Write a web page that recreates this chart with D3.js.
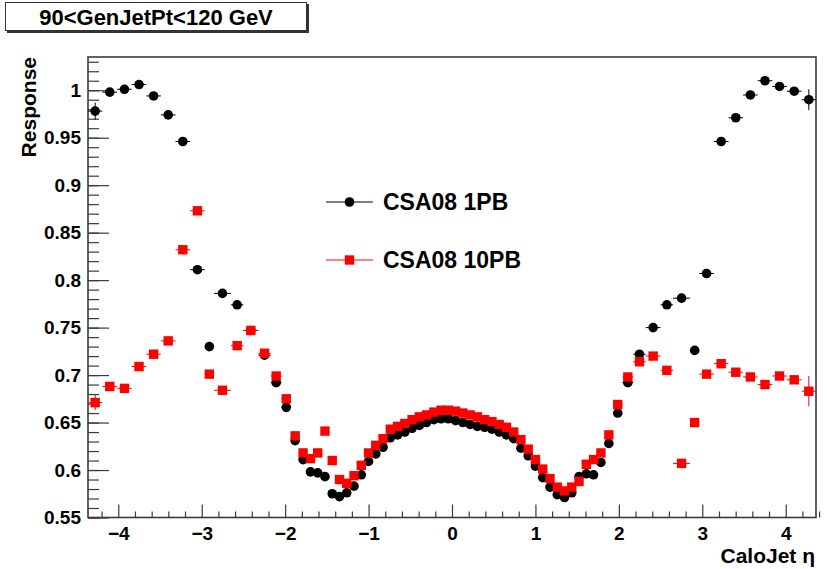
<!DOCTYPE html>
<html>
<head>
<meta charset="utf-8">
<script src="https://cdn.jsdelivr.net/npm/d3@7"></script>
<style>
    body { margin: 0; background: #fff; }
    text { font-family: 'Liberation Sans', Arial, Helvetica, sans-serif; font-weight: bold; fill: #000; }
</style>
</head>
<body>
<div id="chart"></div>
<script>
// calo tower edges in |eta|, the plot uses both sides
const towerEdges = [0, 0.087, 0.174, 0.261, 0.348, 0.435, 0.522, 0.609, 0.696, 0.783, 0.870,
    0.957, 1.044, 1.131, 1.218, 1.305, 1.392, 1.479, 1.566, 1.653, 1.740, 1.830, 1.930,
    2.043, 2.172, 2.322, 2.500, 2.650, 2.853, 2.964, 3.139, 3.314, 3.489, 3.664, 3.839,
    4.013, 4.191, 4.363];

// response per tower, eta from -4.36 to +4.36
const resp1PB = [
    0.978, 0.998, 1.001, 1.006, 0.994, 0.974, 0.946, 0.811, 0.730, 0.786, 0.774, 0.747,
    0.721, 0.692, 0.666, 0.631, 0.611, 0.598, 0.597, 0.593, 0.575, 0.572, 0.576, 0.583,
    0.595, 0.609, 0.617, 0.624, 0.634, 0.637, 0.640, 0.644, 0.647, 0.650, 0.653, 0.654, 0.654,
    0.652, 0.650, 0.648, 0.646, 0.645, 0.643, 0.640, 0.637, 0.633, 0.623, 0.615, 0.604,
    0.592, 0.582, 0.574, 0.571, 0.576, 0.593, 0.596, 0.595, 0.608, 0.628, 0.660, 0.692,
    0.722, 0.750, 0.774, 0.781, 0.726, 0.807, 0.946, 0.971, 0.995, 1.010, 1.004, 0.999, 0.990
];
const resp10PB = [
    0.671, 0.688, 0.686, 0.709, 0.722, 0.736, 0.832, 0.873, 0.701, 0.684, 0.731, 0.747,
    0.723, 0.699, 0.675, 0.636, 0.618, 0.612, 0.618, 0.641, 0.610, 0.590, 0.586, 0.594,
    0.605, 0.618, 0.626, 0.633, 0.643, 0.646, 0.649, 0.653, 0.656, 0.658, 0.661, 0.663, 0.663,
    0.662, 0.660, 0.658, 0.656, 0.653, 0.651, 0.648, 0.645, 0.640, 0.632, 0.622, 0.611,
    0.601, 0.591, 0.582, 0.578, 0.582, 0.588, 0.606, 0.611, 0.618, 0.637, 0.669, 0.698,
    0.714, 0.720, 0.705, 0.607, 0.650, 0.701, 0.712, 0.703, 0.698, 0.690, 0.699, 0.695, 0.683
];
const err1PB = [
    0.009, 0.004, 0.003, 0.003, 0.003, 0.003, 0.003, 0.003, 0.003, 0.002, 0.002, 0.002,
    0.002, 0.002, 0.002, 0.002, 0.002, 0.002, 0.002, 0.002, 0.002, 0.002, 0.002, 0.002,
    0.002, 0.002, 0.002, 0.002, 0.002, 0.002, 0.002, 0.002, 0.002, 0.002, 0.002, 0.002, 0.002,
    0.002, 0.002, 0.002, 0.002, 0.002, 0.002, 0.002, 0.002, 0.002, 0.002, 0.002, 0.002,
    0.002, 0.002, 0.002, 0.002, 0.002, 0.002, 0.002, 0.002, 0.002, 0.002, 0.002, 0.002,
    0.002, 0.002, 0.002, 0.002, 0.003, 0.003, 0.003, 0.003, 0.003, 0.003, 0.003, 0.004, 0.011
];
const err10PB = [
    0.008, 0.004, 0.003, 0.003, 0.003, 0.003, 0.003, 0.003, 0.003, 0.002, 0.002, 0.002,
    0.002, 0.002, 0.002, 0.002, 0.002, 0.002, 0.002, 0.002, 0.002, 0.002, 0.002, 0.002,
    0.002, 0.002, 0.002, 0.002, 0.002, 0.002, 0.002, 0.002, 0.002, 0.002, 0.002, 0.002, 0.002,
    0.002, 0.002, 0.002, 0.002, 0.002, 0.002, 0.002, 0.002, 0.002, 0.002, 0.002, 0.002,
    0.002, 0.002, 0.002, 0.002, 0.002, 0.002, 0.002, 0.002, 0.002, 0.002, 0.002, 0.002,
    0.002, 0.002, 0.002, 0.002, 0.003, 0.003, 0.003, 0.003, 0.003, 0.003, 0.003, 0.004, 0.016
];

const xTicks = [-4, -3, -2, -1, 0, 1, 2, 3, 4];
const yTicks = [0.55, 0.6, 0.65, 0.7, 0.75, 0.8, 0.85, 0.9, 0.95, 1];
const seriesNames = ['CSA08 1PB', 'CSA08 10PB'];
const titleText = '90<GenJetPt<120 GeV';

const width = 827;
const height = 569;
const frame = { left: 88, right: 816, top: 57, bottom: 517.5 };

const svg = d3.select('#chart')
    .append('svg')
    .attr('width', width)
    .attr('height', height);

// bins mirrored around eta = 0
const etaEdges = towerEdges.slice(1).reverse().map(e => -e).concat(towerEdges);
const bins = d3.range(etaEdges.length - 1).map(i => ({
    lo: etaEdges[i],
    hi: etaEdges[i + 1],
    eta: (etaEdges[i] + etaEdges[i + 1]) / 2,
}));

const x = d3.scaleLinear()
    .domain([etaEdges[0], etaEdges[etaEdges.length - 1]])
    .range([frame.left, frame.right]);
const y = d3.scaleLinear()
    .domain([0.55, 1.035])
    .range([frame.bottom, frame.top]);

const axisColor = '#3a3a3a';

// x axis, ticks pointing into the frame
const xMinor = d3.range(-4.2, 4.4, 0.2).filter(v => Math.abs(v - Math.round(v)) > 0.01);
svg.append('g')
    .attr('transform', `translate(0,${frame.bottom})`)
    .call(d3.axisBottom(x).tickValues(xMinor).tickSize(-6).tickSizeOuter(0).tickFormat(''))
    .call(g => g.select('.domain').remove());
const xAxis = svg.append('g')
    .attr('transform', `translate(0,${frame.bottom})`)
    .call(d3.axisBottom(x).tickValues(xTicks).tickSize(-13).tickSizeOuter(0).tickPadding(9)
        .tickFormat(d3.format('d')));
xAxis.select('.domain').remove();
xAxis.selectAll('text').style('font-size', '19px');

// y axis
const yMinor = d3.range(0.55, 1.035, 0.01);
svg.append('g')
    .attr('transform', `translate(${frame.left},0)`)
    .call(d3.axisLeft(y).tickValues(yMinor).tickSize(-11).tickSizeOuter(0).tickFormat(''))
    .call(g => g.select('.domain').remove());
const yAxis = svg.append('g')
    .attr('transform', `translate(${frame.left},0)`)
    .call(d3.axisLeft(y).tickValues(yTicks).tickSize(-21).tickSizeOuter(0).tickPadding(7)
        .tickFormat(d3.format('~g')));
yAxis.select('.domain').remove();
yAxis.selectAll('text').style('font-size', '19px');

svg.selectAll('.tick line')
    .attr('stroke', axisColor)
    .attr('stroke-width', 1.2);

svg.append('rect')
    .attr('x', frame.left)
    .attr('y', frame.top)
    .attr('width', frame.right - frame.left)
    .attr('height', frame.bottom - frame.top)
    .attr('fill', 'none')
    .attr('stroke', axisColor)
    .attr('stroke-width', 1.6);

// axis titles
svg.append('text')
    .attr('x', 815)
    .attr('y', 563)
    .attr('text-anchor', 'end')
    .style('font-size', '21px')
    .text('CaloJet η');

svg.append('text')
    .attr('transform', `translate(36,${frame.top}) rotate(-90)`)
    .attr('text-anchor', 'end')
    .style('font-size', '21px')
    .text('Response');

// title pave with shadow
svg.append('rect')
    .attr('x', 7).attr('y', 4).attr('width', 302).attr('height', 29)
    .attr('fill', '#333');
svg.append('rect')
    .attr('x', 5.5).attr('y', 2.5).attr('width', 301).attr('height', 28)
    .attr('fill', '#fff')
    .attr('stroke', '#333')
    .attr('stroke-width', 1);
svg.append('text')
    .attr('x', 156)
    .attr('y', 25)
    .attr('text-anchor', 'middle')
    .style('font-size', '22px')
    .text(titleText);

function drawSeries(values, errors, color, shape) {
    const pts = bins.map((b, i) => ({ ...b, v: values[i], e: errors[i] }));
    const g = svg.append('g');

    g.selectAll('.xerr')
        .data(pts)
        .join('line')
        .attr('x1', d => x(d.lo))
        .attr('x2', d => x(d.hi))
        .attr('y1', d => y(d.v))
        .attr('y2', d => y(d.v))
        .attr('stroke', color)
        .attr('stroke-width', 1);

    g.selectAll('.yerr')
        .data(pts)
        .join('line')
        .attr('x1', d => x(d.eta))
        .attr('x2', d => x(d.eta))
        .attr('y1', d => y(d.v - d.e))
        .attr('y2', d => y(d.v + d.e))
        .attr('stroke', color)
        .attr('stroke-width', 1);

    if (shape === 'circle') {
        g.selectAll('circle')
            .data(pts)
            .join('circle')
            .attr('cx', d => x(d.eta))
            .attr('cy', d => y(d.v))
            .attr('r', 4.8)
            .attr('fill', color);
    } else {
        g.selectAll('rect')
            .data(pts)
            .join('rect')
            .attr('x', d => x(d.eta) - 4.7)
            .attr('y', d => y(d.v) - 4.7)
            .attr('width', 9.4)
            .attr('height', 9.4)
            .attr('fill', color);
    }
}

drawSeries(resp1PB, err1PB, '#000', 'circle');
drawSeries(resp10PB, err10PB, '#ff0000', 'square');

// legend, no border
const legend = svg.append('g');
const legendRows = [
    { name: seriesNames[0], color: '#000', shape: 'circle', y: 202 },
    { name: seriesNames[1], color: '#ff0000', shape: 'square', y: 260 },
];
legendRows.forEach(row => {
    legend.append('line')
        .attr('x1', 326).attr('x2', 373)
        .attr('y1', row.y).attr('y2', row.y)
        .attr('stroke', row.color)
        .attr('stroke-width', 1);
    if (row.shape === 'circle') {
        legend.append('circle')
            .attr('cx', 349.5).attr('cy', row.y).attr('r', 4.8)
            .attr('fill', row.color);
    } else {
        legend.append('rect')
            .attr('x', 349.5 - 4.7).attr('y', row.y - 4.7)
            .attr('width', 9.4).attr('height', 9.4)
            .attr('fill', row.color);
    }
    legend.append('text')
        .attr('x', 383)
        .attr('y', row.y + 8)
        .style('font-size', '23px')
        .text(row.name);
});
</script>
</body>
</html>
